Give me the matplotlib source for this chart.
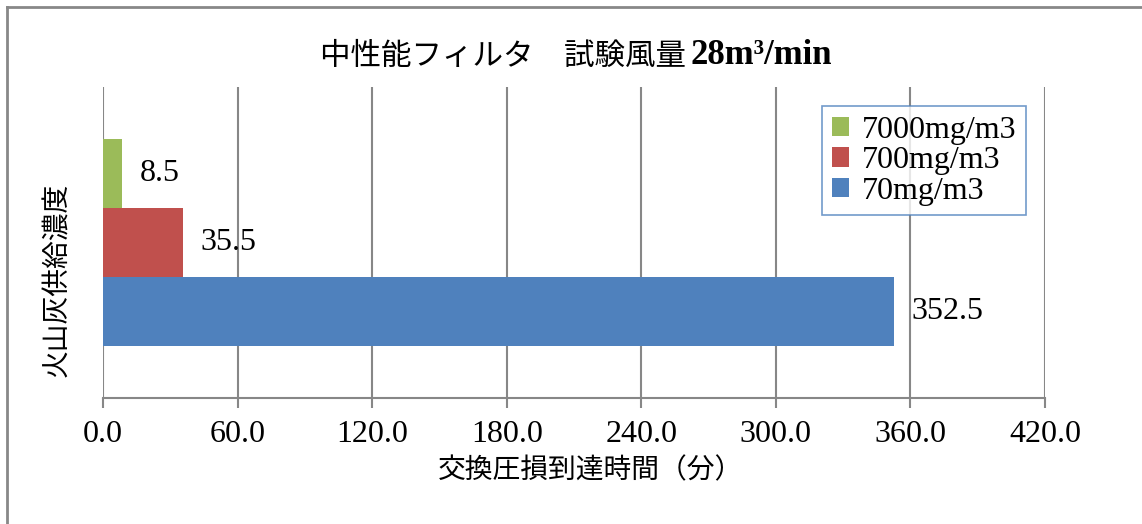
import matplotlib.pyplot as plt
from matplotlib.lines import Line2D

# test series (bottom to top as drawn)
series = ['70mg/m3', '700mg/m3', '7000mg/m3']
minutes = [352.5, 35.5, 8.5]
colors = ['#4F81BD', '#C0504D', '#9BBB59']
xticks = [0, 60, 120, 180, 240, 300, 360, 420]

title_jp = '中性能フィルタ　試験風量'
title_en = '28m³/min'
xlabel = '交換圧損到達時間（分）'
ylabel = '火山灰供給濃度'

serif = ['Liberation Serif', 'Noto Sans CJK JP']
cjk = ['Noto Sans CJK JP', 'Liberation Serif']
plt.rcParams['font.family'] = serif

fig = plt.figure(figsize=(11.42, 5.24), dpi=100)
ax = fig.add_axes([103 / 1142, 1 - 398 / 524, 942 / 1142, 311 / 524])

bh = 1 / 1.5 / 3
for i, (name, v, c) in enumerate(zip(series, minutes, colors)):
    y = (i - 1) * bh
    ax.barh(y, v, height=bh, color=c, label=name, zorder=3)
    ax.text(v + 8, y, f'{v:.1f}', va='center', ha='left', fontsize=23,
            family=serif, zorder=4)

ax.set_xlim(0, 420)
ax.set_ylim(-0.5, 0.5)
ax.set_xticks(xticks)
ax.set_xticklabels([f'{t:.1f}' for t in xticks], fontsize=23)
ax.set_yticks([])
ax.grid(axis='x', color='#878787', linewidth=1.5, zorder=0)
ax.tick_params(axis='x', length=7, width=1.5, color='#878787', pad=9)
for s in ['top', 'right', 'left']:
    ax.spines[s].set_visible(False)
ax.spines['bottom'].set_color('#878787')
ax.spines['bottom'].set_linewidth(1.5)

h, l = ax.get_legend_handles_labels()
leg = ax.legend(h[::-1], l[::-1], loc='upper left',
                bbox_to_anchor=((822 - 103) / 942, (398 - 106) / 311),
                fontsize=23, frameon=True, fancybox=False, handlelength=0.55,
                handleheight=0.55, handletextpad=0.4, labelspacing=0.05,
                borderpad=0.3, borderaxespad=0)
leg.get_frame().set_edgecolor('#4F81BD')
leg.get_frame().set_linewidth(1.2)

fig.text(686 / 1142, 1 - 56 / 524, title_jp, ha='right', va='center',
         fontsize=22, family=cjk)
fig.text(690 / 1142, 1 - 56 / 524, title_en, ha='left', va='center',
         fontsize=25, family=serif, fontweight='bold')
fig.text(590 / 1142, 1 - 470 / 524, xlabel, ha='center', va='center',
         fontsize=20, family=cjk)
fig.text(57 / 1142, 1 - 280 / 524, ylabel, ha='center', va='center',
         fontsize=20, family=cjk, rotation=90)

# outer chart border (top and left edges)
fig.add_artist(Line2D([7 / 1142, 1], [1 - 7 / 524] * 2, color='#888888', lw=2))
fig.add_artist(Line2D([7 / 1142] * 2, [0, 1 - 7 / 524], color='#888888', lw=2))

fig.savefig('out.png', dpi=100)
